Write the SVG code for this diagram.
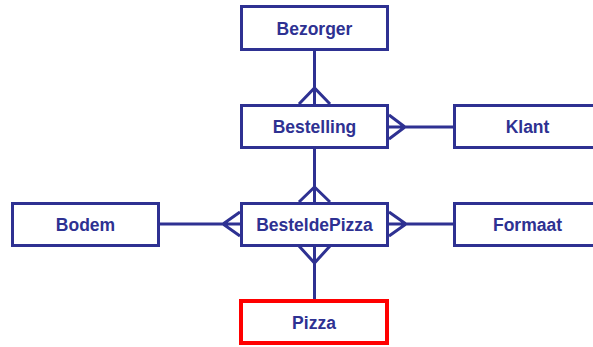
<svg xmlns="http://www.w3.org/2000/svg" width="593" height="347" viewBox="0 0 593 347">
<style>
.box{fill:#fff;stroke:#2e3192;stroke-width:3}
.red{fill:#fff;stroke:#ff0000;stroke-width:4}
.lbl{font-family:"Liberation Sans",Arial,sans-serif;font-weight:bold;font-size:17.5px;fill:#2e3192;text-anchor:middle}
.con{fill:none;stroke:#2e3192;stroke-width:3;stroke-linejoin:miter}
</style>
<rect width="593" height="347" fill="#fff"/>
<g id="connectors">
<path class="con" d="M314.5,51 V104 M299,104 L314.5,88 L330,104"/>
<path class="con" d="M389,127 H453 M389,115 L405,127 L389,139"/>
<path class="con" d="M314.5,148 V202 M299,202 L314.5,187 L330,202"/>
<path class="con" d="M160,224 H240 M240,212 L223,224 L240,236"/>
<path class="con" d="M389,224 H453 M389,212 L406,224 L389,236"/>
<path class="con" d="M314.5,246 V299 M299,246 L314.5,263 L330,246"/>
</g>
<g id="bezorger"><rect class="box" x="241.5" y="6.5" width="146" height="43"/><text class="lbl" x="314.5" y="35">Bezorger</text></g>
<g id="bestelling"><rect class="box" x="241.5" y="105.5" width="146" height="42"/><text class="lbl" x="314.5" y="133">Bestelling</text></g>
<g id="klant"><rect class="box" x="454.5" y="105.5" width="146" height="42"/><text class="lbl" x="527.5" y="133">Klant</text></g>
<g id="besteldepizza"><rect class="box" x="241.5" y="203.5" width="146" height="42"/><text class="lbl" x="314.5" y="230.5">BesteldePizza</text></g>
<g id="bodem"><rect class="box" x="12.5" y="203.5" width="146" height="42"/><text class="lbl" x="85.5" y="230.5">Bodem</text></g>
<g id="formaat"><rect class="box" x="454.5" y="203.5" width="146" height="42"/><text class="lbl" x="527.5" y="230.5">Formaat</text></g>
<g id="pizza"><rect class="red" x="241" y="301" width="146" height="42"/><text class="lbl" x="314" y="328.5">Pizza</text></g>
</svg>
